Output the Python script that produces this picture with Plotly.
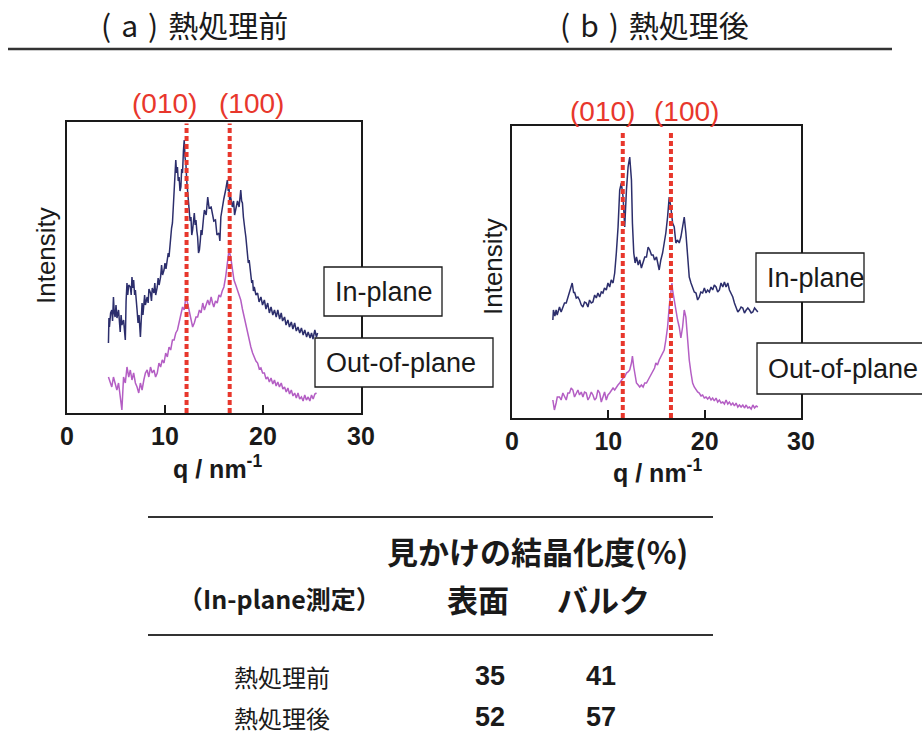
import plotly.graph_objects as go

W, H = 922, 740

# ---------------- data ----------------
q_ticks = [0, 10, 20, 30]

# (a) before heat treatment
qa_in = [4.23,4.28,4.33,4.45,4.57,4.65,4.74,4.82,4.91,5.0,5.1,5.26,5.35,5.43,5.52,5.6,5.77,5.86,5.95,6.03,
         6.12,6.2,6.3,6.46,6.55,6.63,6.72,6.8,6.9,6.98,7.06,7.15,7.25,7.35,7.49,7.58,7.66,7.75,7.84,7.92,
         8.0,8.18,8.28,8.36,8.52,8.62,8.7,8.87,8.96,9.05,9.21,9.3,9.4,9.55,9.65,9.75,9.9,10.0,10.1,10.24,
         10.33,10.41,10.5,10.58,10.67,10.76,10.85,10.93,11.02,11.1,11.18,11.27,11.35,11.44,11.53,11.62,11.7,11.79,11.88,11.96,
         12.05,12.13,12.22,12.3,12.38,12.47,12.56,12.65,12.73,12.82,12.9,12.99,13.08,13.16,13.25,13.33,13.42,13.51,13.6,13.68,
         13.77,13.85,13.94,14.02,14.2,14.36,14.5,14.71,14.81,14.98,15.15,15.3,15.5,15.6,15.7,15.84,16.0,16.19,16.36,16.45,
         16.53,16.6,16.7,16.87,17.0,17.1,17.22,17.4,17.56,17.65,17.73,17.82,17.9,18.0,18.08,18.17,18.25,18.33,18.42,18.5,
         18.59,18.68,18.76,18.85,18.94,19.02,19.11,19.28,19.45,19.6,19.79,19.95,20.14,20.3,20.48,20.65,20.82,21.0,21.17,21.35,
         21.51,21.7,21.86,22.0,22.2,22.35,22.54,22.7,22.89,23.05,23.23,23.4,23.57,23.75,23.92,24.1,24.26,24.45,24.61,24.8,
         24.95,25.1,25.29,25.45,25.57]
ia_in = [70,95,86,100,103,92,116,100,96,108,95,103,90,81,98,88,93,85,73,112,
         130,118,128,126,118,136,125,133,118,123,108,103,90,98,76,95,110,98,106,118,
         108,116,110,124,120,112,125,120,130,118,126,135,128,136,148,138,143,150,144,153,
         160,156,168,173,185,190,205,216,240,253,240,246,232,236,222,226,244,240,262,273,
         255,250,232,223,212,203,192,196,178,183,196,200,188,193,182,176,160,163,172,183,
         178,190,196,203,198,216,205,206,200,192,193,178,180,172,196,206,214,223,233,222,
         226,212,216,206,212,198,203,212,206,214,223,212,210,196,186,182,176,168,163,150,
         153,146,143,130,133,122,126,118,120,111,116,108,113,104,110,100,106,98,103,96,
         103,94,100,92,96,88,93,86,91,84,90,82,86,80,85,78,83,76,81,75,
         80,74,83,76,80]

qa_out = [4.23,4.4,4.57,4.74,4.91,5.09,5.26,5.43,5.6,5.77,5.95,6.12,6.3,6.46,6.63,6.8,6.98,7.15,7.32,7.49,
          7.66,7.84,8.0,8.18,8.35,8.52,8.7,8.87,9.04,9.21,9.38,9.55,9.72,9.9,10.07,10.24,10.41,10.58,10.76,10.93,
          11.1,11.27,11.44,11.62,11.79,11.96,12.13,12.3,12.47,12.65,12.82,12.99,13.16,13.33,13.51,13.68,13.85,14.02,14.2,14.36,
          14.53,14.71,14.85,14.98,15.15,15.33,15.5,15.67,15.84,16.01,16.19,16.36,16.53,16.7,16.87,17.04,17.22,17.39,17.56,17.73,
          17.9,18.08,18.25,18.42,18.59,18.76,18.94,19.11,19.28,19.45,19.62,19.79,19.96,20.14,20.31,20.48,20.65,20.82,21.0,21.17,
          21.34,21.51,21.68,21.86,22.03,22.2,22.37,22.54,22.71,22.89,23.06,23.23,23.4,23.57,23.74,23.92,24.09,24.26,24.43,24.61,
          24.78,24.95,25.12,25.29,25.46]
ia_out = [36,30,26,36,30,23,30,16,3,36,30,46,36,43,33,40,30,26,20,30,
          23,33,40,43,36,46,40,43,36,40,50,46,53,50,60,56,66,63,73,73,
          80,83,90,96,106,103,116,110,103,96,86,90,96,96,103,100,110,103,108,113,
          108,116,110,106,112,110,118,116,122,126,136,153,163,156,143,133,128,123,116,113,
          104,96,88,80,72,66,60,56,52,50,44,45,40,40,34,36,31,35,29,33,
          27,31,26,30,24,26,21,25,19,23,17,20,15,20,14,16,12,18,13,16,
          12,18,14,19,20]

# (b) after heat treatment
qb_in = [4.24,4.3,4.45,4.58,4.69,4.93,5.1,5.28,5.45,5.63,5.8,5.97,6.14,6.25,6.4,6.49,6.67,6.84,7.01,7.19,
         7.36,7.53,7.71,7.88,8.05,8.23,8.4,8.58,8.75,8.92,9.1,9.27,9.44,9.6,9.79,9.96,10.14,10.3,10.49,10.66,
         10.83,11.01,11.18,11.35,11.53,11.7,11.88,12.05,12.22,12.4,12.5,12.64,12.78,12.92,13.1,13.26,13.43,13.61,13.78,13.96,
         14.13,14.3,14.48,14.65,14.8,15.0,15.15,15.28,15.45,15.63,15.8,15.97,16.15,16.32,16.49,16.67,16.84,17.01,17.19,17.36,
         17.53,17.71,17.88,18.05,18.23,18.4,18.58,18.75,18.92,19.1,19.27,19.44,19.6,19.79,19.97,20.14,20.3,20.49,20.66,20.83,
         21.0,21.18,21.35,21.53,21.7,21.88,22.05,22.22,22.4,22.57,22.74,22.92,23.09,23.26,23.44,23.61,23.78,23.96,24.13,24.31,
         24.48,24.65,24.83,25.0,25.18,25.35,25.52]
ib_in = [98,108,102,108,103,111,106,110,115,115,120,125,131,135,125,126,120,121,118,113,
         111,116,115,111,118,115,116,123,120,125,121,126,125,130,128,135,131,138,135,145,
         165,191,228,235,221,191,228,251,261,238,195,165,155,161,153,158,150,155,161,161,
         171,168,163,163,158,161,152,148,158,165,175,185,201,221,211,195,191,175,178,175,
         181,191,201,185,158,141,135,131,126,125,118,121,126,125,130,125,128,126,131,128,
         133,131,126,128,135,131,136,131,135,128,125,121,115,111,106,108,111,110,105,108,
         110,108,105,106,110,108,106]

qb_out = [4.24,4.4,4.58,4.7,4.93,5.1,5.28,5.45,5.63,5.8,5.97,6.14,6.32,6.49,6.67,6.84,7.01,7.19,7.36,7.53,
          7.71,7.88,8.05,8.23,8.4,8.58,8.75,8.92,9.1,9.27,9.44,9.61,9.79,9.96,10.14,10.3,10.49,10.66,10.83,11.0,
          11.18,11.35,11.53,11.7,11.88,12.05,12.22,12.4,12.5,12.64,12.78,12.92,13.1,13.26,13.43,13.61,13.78,13.96,14.13,14.3,
          14.48,14.65,14.8,14.93,15.1,15.28,15.45,15.63,15.8,15.97,16.15,16.32,16.49,16.6,16.67,16.84,17.01,17.19,17.36,17.53,
          17.71,17.88,18.05,18.23,18.4,18.58,18.75,18.92,19.1,19.27,19.44,19.62,19.79,19.96,20.14,20.31,20.49,20.66,20.83,21.0,
          21.18,21.35,21.53,21.7,21.88,22.05,22.22,22.4,22.57,22.74,22.92,23.09,23.26,23.44,23.61,23.78,23.96,24.13,24.31,24.48,
          24.65,24.83,25.0,25.18,25.35,25.52]
ib_out = [18,8,15,21,21,18,25,21,18,25,25,30,28,21,25,28,23,26,21,26,
          25,18,21,26,23,18,20,28,25,16,21,26,18,23,25,28,30,28,31,33,
          35,38,40,41,45,46,48,55,62,51,41,35,33,31,33,31,35,35,38,41,
          45,48,50,55,53,58,61,65,68,78,91,111,131,135,128,118,105,98,91,80,
          91,108,101,78,58,45,35,31,28,26,25,22,23,20,21,19,21,18,20,17,
          20,16,18,15,16,14,18,14,16,13,15,12,15,11,13,11,13,10,13,10,
          11,9,13,10,12,11]

peaks_a = [12.2, 16.6]
peaks_b = [11.5, 16.5]
peak_names = ["(010)", "(100)"]

table_cols = ["表面", "バルク"]
table_rows = ["熱処理前", "熱処理後"]
table_vals = [[35, 41], [52, 57]]

for a, b in [(qa_in, ia_in), (qa_out, ia_out), (qb_in, ib_in), (qb_out, ib_out)]:
    assert len(a) == len(b), (len(a), len(b))

# ---------------- styling ----------------
NAVY = "#2c2e6c"
MAGENTA = "#b45ec4"
RED = "#e8372c"
INK = "#1a1a1a"
SANS = "Liberation Sans, Arial, sans-serif"
JP = "Noto Sans CJK JP, sans-serif"


def px(x):
    return x / W


def py(y):
    return 1 - y / H


fig = go.Figure()
fig.add_trace(go.Scatter(x=qa_in, y=ia_in, mode="lines", line=dict(color=NAVY, width=1.5),
                         xaxis="x", yaxis="y", showlegend=False, hoverinfo="skip"))
fig.add_trace(go.Scatter(x=qa_out, y=ia_out, mode="lines", line=dict(color=MAGENTA, width=1.5),
                         xaxis="x", yaxis="y", showlegend=False, hoverinfo="skip"))
fig.add_trace(go.Scatter(x=qb_in, y=ib_in, mode="lines", line=dict(color=NAVY, width=1.5),
                         xaxis="x2", yaxis="y2", showlegend=False, hoverinfo="skip"))
fig.add_trace(go.Scatter(x=qb_out, y=ib_out, mode="lines", line=dict(color=MAGENTA, width=1.5),
                         xaxis="x2", yaxis="y2", showlegend=False, hoverinfo="skip"))

xcommon = dict(range=[0, 30], tickvals=q_ticks, ticks="inside", ticklen=8, tickwidth=1.5,
               tickcolor=INK, showline=True, linecolor=INK, linewidth=1.5, mirror=True,
               showgrid=False, zeroline=False, automargin=False,
               tickfont=dict(family=SANS, size=25, color=INK, weight="bold"))
ycommon = dict(showline=True, linecolor=INK, linewidth=1.5, mirror=True, showgrid=False,
               zeroline=False, showticklabels=False, ticks="", automargin=False)

fig.update_layout(
    width=W, height=H, autosize=False,
    margin=dict(l=0, r=0, t=0, b=0, pad=0, autoexpand=False),
    paper_bgcolor="white", plot_bgcolor="white",
    xaxis=dict(domain=[px(67), px(361)], anchor="y", **xcommon),
    yaxis=dict(domain=[py(413), py(122)], range=[0, 291], anchor="x", **ycommon),
    xaxis2=dict(domain=[px(512), px(801)], anchor="y2", **xcommon),
    yaxis2=dict(domain=[py(418), py(126)], range=[0, 292], anchor="x2", **ycommon),
)

shapes = []
# dotted peak markers
for p in peaks_a:
    shapes.append(dict(type="line", xref="x", yref="y domain", x0=p, x1=p, y0=0, y1=0.995,
                       line=dict(color=RED, width=4, dash="5px,3px"), layer="above"))
for p in peaks_b:
    shapes.append(dict(type="line", xref="x2", yref="y2 domain", x0=p, x1=p, y0=0, y1=0.98,
                       line=dict(color=RED, width=4, dash="5px,3px"), layer="above"))

# header rule and table rules
shapes.append(dict(type="line", xref="paper", yref="paper", x0=px(8), x1=px(892), y0=py(49), y1=py(49),
                   line=dict(color="#333", width=2.5)))
for yy in (517, 635):
    shapes.append(dict(type="line", xref="paper", yref="paper", x0=px(148), x1=px(713), y0=py(yy), y1=py(yy),
                       line=dict(color="#333", width=1.8)))

# legend boxes (drawn over the frames)
boxes = [
    (324, 267, 442, 316, "In-plane"),
    (315, 338, 493, 387, "Out-of-plane"),
    (756, 253, 864, 302, "In-plane"),
    (757, 343, 940, 394, "Out-of-plane"),
]
for x0, y0, x1, y1, _ in boxes:
    shapes.append(dict(type="rect", xref="paper", yref="paper", x0=px(x0), x1=px(x1), y0=py(y1), y1=py(y0),
                       line=dict(color=INK, width=1.3), fillcolor="white", layer="above"))

fig.update_layout(shapes=shapes)

ann = []


def text(t, x, y, size, family=SANS, color=INK, xanchor="center", weight="normal", angle=0):
    ann.append(dict(text=t, x=px(x), y=py(y), xref="paper", yref="paper", showarrow=False,
                    xanchor=xanchor, yanchor="middle", textangle=angle,
                    font=dict(family=family, size=size, color=color, weight=weight)))


# panel titles
text("(\u2004a\u2004)\u2004熱処理前", 99, 24, 30, family=JP, xanchor="left")
text("(\u2004b\u2004)\u2004熱処理後", 558, 24, 30, family=JP, xanchor="left")

# peak labels
text(peak_names[0], 164, 103, 28, color=RED)
text(peak_names[1], 251, 103, 28, color=RED)
text(peak_names[0], 602, 111, 28, color=RED)
text(peak_names[1], 686, 111, 28, color=RED)

# axis titles
text("Intensity", 46, 256, 26, angle=-90)
text("Intensity", 493, 267, 26, angle=-90)
text("q\u00a0/\u00a0nm<sup>-1</sup>", 217, 467, 25, weight="bold")
text("q\u00a0/\u00a0nm<sup>-1</sup>", 657, 471, 25, weight="bold")

# legend box texts
for x0, y0, x1, y1, t in boxes:
    text(t, x0 + 9, (y0 + y1) / 2, 27, xanchor="left")

# table
text("見かけの結晶化度(%)", 537, 550, 31, family=JP, weight="bold")
text("（In-plane測定）", 176, 598, 25, family=JP, xanchor="left", weight="bold")
text(table_cols[0], 478, 598, 31, family=JP, weight="bold")
text(table_cols[1], 603, 598, 31, family=JP, weight="bold")
for r, (name, vals) in enumerate(zip(table_rows, table_vals)):
    yy = 676 + 41 * r
    text(name, 232, yy, 24, family=JP, xanchor="left")
    text(str(vals[0]), 490, yy, 27, weight="bold")
    text(str(vals[1]), 601, yy, 27, weight="bold")

fig.update_layout(annotations=ann)
fig.write_html("out.html", config={"displayModeBar": False},
               post_script="document.body.style.margin='0';document.body.style.overflow='hidden';")
